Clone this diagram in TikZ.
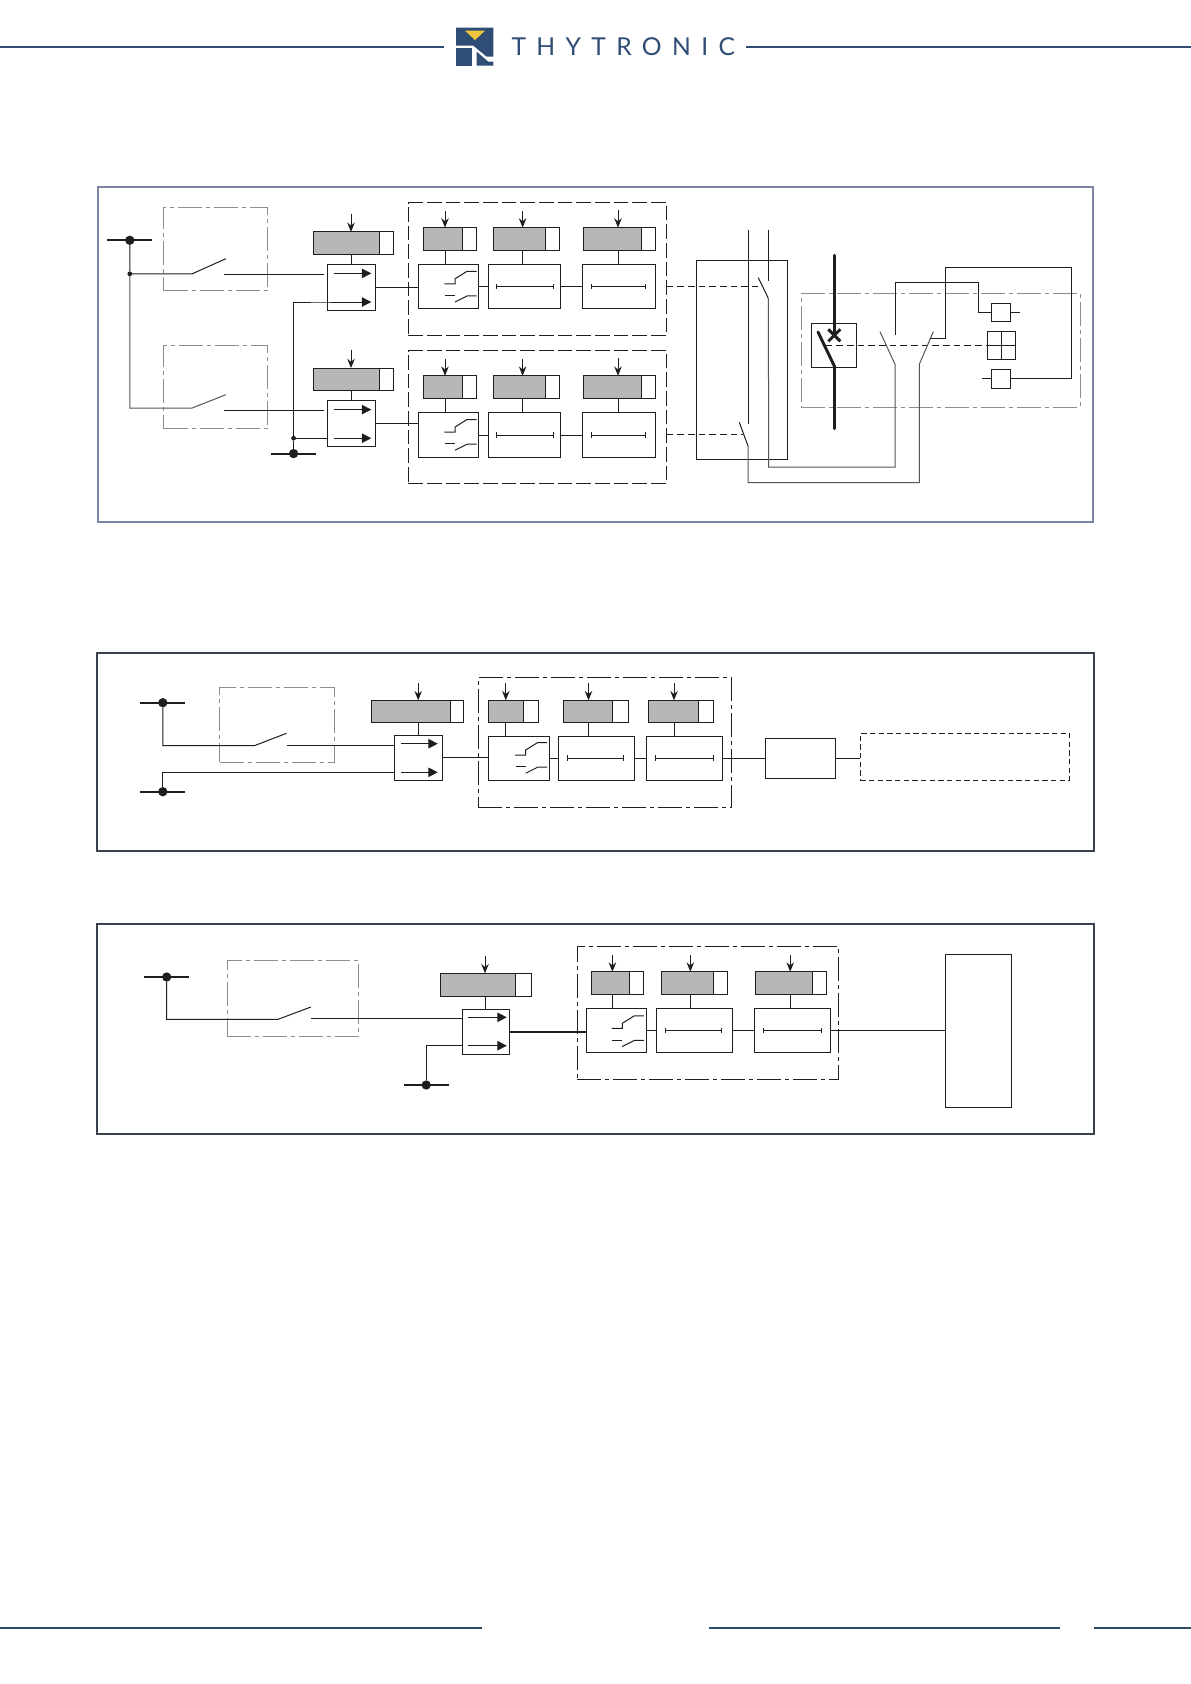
\documentclass[tikz,border=0pt]{standalone}
\usepackage{fontspec}
\usetikzlibrary{arrows.meta}
\newfontfamily\brandfont[LetterSpace=42]{Lato}
\definecolor{navy}{HTML}{2F4D75}
\definecolor{footnavy}{HTML}{2F4A63}
\definecolor{signal}{HTML}{F0C63C}
\definecolor{inkline}{HTML}{1E1E1E}
\definecolor{wiregrey}{HTML}{555555}
\definecolor{blockgrey}{HTML}{B6B8B8}
\definecolor{framea}{HTML}{7B84A3}
\definecolor{frameb}{HTML}{3A4250}
\definecolor{boundary}{HTML}{8A8C98}
\tikzset{
  plainbox/.style={draw=inkline,fill=white,rectangle,inner sep=0pt,outer sep=0pt,anchor=north west},
  greybox/.style={plainbox,fill=blockgrey},
  groupbox/.style={plainbox,fill=none,dash pattern=on 18pt off 3pt on 3pt off 3pt},
  dashgroup/.style={plainbox,fill=none,dash pattern=on 11pt off 3pt},
  areabox/.style={plainbox,fill=none,draw=boundary,dash pattern=on 18pt off 3pt on 3pt off 3pt},
  loadbox/.style={plainbox,fill=none,dash pattern=on 4pt off 2.5pt},
  frameone/.style={plainbox,fill=none,draw=framea,line width=1.5pt},
  frametwo/.style={plainbox,fill=none,draw=frameb,line width=1.4pt},
  busdot/.style={circle,fill=inkline,inner sep=0pt,outer sep=0pt,minimum size=7pt},
  joindot/.style={circle,fill=inkline,inner sep=0pt,outer sep=0pt,minimum size=3.6pt},
  bus/.style={line width=1.4pt,draw=inkline},
  wire/.style={draw=inkline},
  greywire/.style={draw=wiregrey},
  feed/.style={draw=inkline,-{Stealth[length=7pt,width=5.6pt]}},
  route/.style={draw=inkline,-{Triangle[length=7pt,width=7pt]}},
  tickbar/.style={draw=inkline,{Bar[width=4pt]}-{Bar[width=4pt]}},
  trip/.style={draw=inkline,dash pattern=on 5pt off 3pt},
  power/.style={draw=inkline,line width=2.2pt},
  brand/.style={draw=navy,line width=1.5pt},
  footrule/.style={draw=footnavy,line width=1.5pt}
}
\newcommand{\blk}[6][plainbox]{%
  \node[#1,minimum width={(#5-(#3))*0.75pt},minimum height={(#6-(#4))*0.75pt}] (#2) at (#3,#4) {};}
\newcommand{\statblk}[9]{%
  \blk[greybox]{#1}{#2}{#5}{#3}{#6}
  \blk{#1w}{#3}{#5}{#4}{#6}
  \coordinate (#1in) at (#7,#8);
  \draw[feed] (#1in) -- (#1in |- #1.north);
  \draw[wire] (#1.south -| #1in) -- (#9.north -| #1in);}
\newcommand{\busbar}[3]{%
  \node[busdot] (#1) at (#2,#3) {};
  \draw[bus] ([xshift=-17pt]#1.center) -- ([xshift=17pt]#1.center);}
\newcommand{\route}[5]{%
  \coordinate (#1r) at (#2,#4);
  \coordinate (#1s) at (#2,#5);
  \draw[route] (#1r) -- (#3,#4);
  \draw[route] (#1s) -- (#3,#5);}
\newcommand{\chover}[2]{%
  \draw[wire,shift={(#1,#2)}] (0,0) -- (10.6,0) -- (10.6,-5) -- (22.6,-12.5) -- (32.1,-12.5);
  \draw[wire,shift={(#1,#2)}] (0.5,11.7) -- (10.6,11.7);
  \draw[wire,shift={(#1,#2)}] (10.6,18.2) -- (23,12) -- (32.1,12);}
\newcommand{\barin}[3]{\draw[tickbar] (#2,0 |- #1.center) -- (#3,0 |- #1.center);}
\begin{document}
\begin{tikzpicture}[x=0.75pt,y=-0.75pt,line width=0.75pt]
  \useasboundingbox (0,0) rectangle (1191,1684);
  \fill[white] (0,0) rectangle (1191,1684);

  \draw[brand] (0,46.7) -- (444.4,46.7);
  \draw[brand] (746,46.7) -- (1191,46.7);
  \fill[navy] (456,27.7) -- (493.3,27.7) -- (493.3,56.7) -- (486.7,56.7) -- (473.3,45.7) -- (456,45.7) -- cycle;
  \fill[signal] (465,30.7) -- (485,30.7) -- (475,40) -- cycle;
  \fill[navy] (456,48.3) rectangle (471.7,65.7);
  \fill[navy] (476.7,51.7) -- (488.3,61.7) -- (493.3,61.7) -- (493.3,65.7) -- (476.7,65.7) -- cycle;
  \node[text=navy,anchor=west,inner sep=0pt,font=\brandfont\fontsize{18.5}{20}\selectfont] (logoname) at (511,46.9) {THYTRONIC};
  \draw[footrule] (0,1628) -- (482.3,1628);
  \draw[footrule] (708.7,1628) -- (1060.4,1628);
  \draw[footrule] (1093.8,1628) -- (1191,1628);

  \blk[frameone]{framea}{97.6}{186.7}{1093.3}{521.7}
  \blk[areabox]{fieldaa}{163.5}{207.8}{267.6}{290.5}
  \blk[areabox]{fieldab}{163.5}{345.8}{267.6}{428.7}
  \busbar{busap}{129.8}{240.3}
  \busbar{busan}{293.6}{453.6}
  \node[joindot] (joinap) at (129.8,273.8) {};
  \node[joindot] (joinan) at (293.6,438.2) {};
  \coordinate (swaah) at (192.2,273.8);
  \coordinate (swaat) at (225.9,258.7);
  \coordinate (swaao) at (224,274.8);
  \coordinate (swaae) at (324.2,274.8);
  \coordinate (swabh) at (192.2,408);
  \coordinate (swabt) at (225.9,394.7);
  \coordinate (swabo) at (224,410.4);
  \coordinate (swabe) at (324.2,410.4);
  \draw[wire] (busap) -- (joinap) -- (swaah) -- (swaat);
  \draw[greywire] (joinap) |- (swabh) -- (swabt);
  \draw[wire] (swaao) -- (swaae);
  \draw[wire] (swabo) -- (swabe);
  \foreach \ch/\dy/\ds/\dg in {a/0/0/0,b/148.2/136.2/148} {
    \blk{sel\ch}{327.3}{264.7+\ds}{375.5}{310+\ds}
    \route{sel\ch}{334.2}{371.3}{273.4+\ds}{302+\ds}
    \statblk{stat\ch}{313.5}{379.7}{393.5}{231.9+\ds}{254.7+\ds}{351}{213.5+\ds}{sel\ch}
    \blk[dashgroup]{grp\ch}{408.4}{202.8+\dg}{666.7}{335.5+\dg}
    \blk{lg\ch a}{418.4}{264.7+\dy}{478.8}{308.9+\dy}
    \blk{lg\ch b}{488.4}{264.7+\dy}{560.7}{308.9+\dy}
    \blk{lg\ch c}{582.5}{264.7+\dy}{655}{308.9+\dy}
    \statblk{st\ch a}{423.3}{462}{476.2}{227.6+\dy}{250.7+\dy}{445}{211.1+\dy}{lg\ch a}
    \statblk{st\ch b}{493.4}{545.8}{559.6}{227.6+\dy}{250.7+\dy}{522.6}{211.1+\dy}{lg\ch b}
    \statblk{st\ch c}{583.3}{641.5}{655.6}{227.6+\dy}{250.7+\dy}{618}{210+\dy}{lg\ch c}
    \chover{444.4}{283.8+\dy}
    \barin{lg\ch b}{496.4}{553.8}
    \barin{lg\ch c}{591.3}{645.7}
    \draw[wire] (lg\ch a.east) -- (lg\ch b.west);
    \draw[wire] (lg\ch b.east) -- (lg\ch c.west);
  }
  \draw[wire] (sela.east) -- (sela.east -| lgaa.west);
  \draw[wire] (selb.east) -- (selb.east -| lgba.west);
  \draw[wire] (selas) -- (selas -| sela.west) -| (joinan) -- (busan);
  \draw[wire] (joinan) -- (joinan -| selb.west);

  \blk{contact}{696.3}{260.3}{787.3}{459.3}
  \coordinate (railat) at (748.3,230);
  \coordinate (railae) at (748.3,424);
  \coordinate (railbt) at (768.3,230);
  \coordinate (railbe) at (768.3,281);
  \coordinate (bladeat) at (758.3,277.7);
  \coordinate (bladeab) at (768.3,298.3);
  \coordinate (bladebt) at (739.3,422.3);
  \coordinate (bladebb) at (748,446);
  \draw[wire] (railat) -- (railae);
  \draw[wire] (railbt) -- (railbe);
  \draw[wire] (bladeat) -- (bladeab);
  \draw[wire] (bladebt) -- (bladebb);
  \coordinate (tripa) at (758.3,286.3);
  \coordinate (tripb) at (742.5,434.8);
  \draw[trip] (tripa -| grpa.east) -- (tripa);
  \draw[trip] (tripb -| grpb.east) -- (tripb);

  \blk[areabox]{breakarea}{801.3}{293.3}{1080}{407.3}
  \blk{breaker}{811.3}{323.3}{856.7}{367.3}
  \coordinate (powert) at (834.3,255.3);
  \coordinate (powerb) at (834.3,428.7);
  \coordinate (powerh) at (834.3,366);
  \coordinate (powers) at (818,332);
  \coordinate (xpoint) at (834.3,335.3);
  \draw[power,line cap=round] (powert) -- (xpoint);
  \draw[power,line cap=round] (powerh) -- (powerb);
  \draw[power,line cap=round] (powers) -- (powerh);
  \draw[power] ([shift={(-6,-6)}]xpoint) -- ([shift={(6,6)}]xpoint);
  \draw[power] ([shift={(-6,6)}]xpoint) -- ([shift={(6,-6)}]xpoint);
  \coordinate (auxah) at (895,364.3);
  \coordinate (auxat) at (880,331.7);
  \coordinate (auxbh) at (919.3,364.3);
  \coordinate (auxbt) at (933.3,331.7);
  \blk{coilon}{991.3}{303.3}{1010.7}{321.7}
  \blk{coiloff}{991.3}{369.3}{1010.7}{388.3}
  \blk{motor}{987.3}{331.3}{1015.7}{359.3}
  \draw[wire] (motor.north) -- (motor.south);
  \draw[wire] (motor.west) -- (motor.east);
  \coordinate (tripc) at (825.7,345.3);
  \draw[trip] (tripc) -- (motor.west);
  \draw[greywire] (bladeab) -- (768.7,467) -- (895,467) -- (auxah) -- (auxat);
  \draw[greywire] (bladebb) -- (748,482.5) -- (919.3,482.5) -- (auxbh) -- (auxbt);
  \coordinate (auxac) at (895.3,335);
  \coordinate (auxbc) at (930,338.3);
  \draw[wire] (auxac) |- (978.3,282.3) |- (coilon.west);
  \draw[wire] (coilon.east) -- ++(9.6,0);
  \draw[wire] (auxbc) -| (945.3,267.3) -| (1071.3,378.8) -- (coiloff.east);
  \draw[wire] (coiloff.west) -- ++(-9.3,0);

  \blk[frametwo]{frameb}{97.1}{653.3}{1093.8}{851}
  \blk[areabox]{fieldb}{219.5}{687}{334.1}{762.3}
  \busbar{busbp}{162.8}{702.7}
  \busbar{busbn}{162.8}{791.7}
  \blk{selc}{394}{735}{442.3}{780.3}
  \route{selc}{401.1}{437.8}{743.7}{772.3}
  \statblk{statc}{371.5}{450.7}{463.6}{700.3}{722.7}{418.2}{683.3}{selc}
  \coordinate (swch) at (254.3,745.7);
  \coordinate (swct) at (286.5,733.3);
  \coordinate (swco) at (286.5,745);
  \draw[wire] (busbp) |- (swch) -- (swct);
  \draw[wire] (swco) -- (swco -| selc.west);
  \draw[wire] (busbn) |- (selc.west |- selcs);
  \blk[groupbox]{grpc}{478.4}{677.3}{731.6}{807.3}
  \blk{lgca}{488.1}{736}{549.9}{780.3}
  \blk{lgcb}{558.3}{736}{634.3}{780.3}
  \blk{lgcc}{646.5}{736}{722.5}{780.3}
  \statblk{stca}{488.1}{523.5}{538.3}{700.3}{722.7}{505.8}{683.3}{lgca}
  \statblk{stcb}{563.4}{612.4}{628.5}{700.3}{722.7}{588.5}{683.3}{lgcb}
  \statblk{stcc}{648.5}{698}{713.5}{700.3}{722.7}{674}{683.3}{lgcc}
  \chover{515.1}{755}
  \barin{lgcb}{567.3}{624}
  \barin{lgcc}{654.9}{714.2}
  \blk{relayc}{765}{738.3}{835.9}{778.7}
  \blk[loadbox]{loadc}{860.4}{733.3}{1069.7}{780.3}
  \draw[wire] (selc.east) -- (selc.east -| lgca.west);
  \draw[wire] (lgca.east) -- (lgcb.west);
  \draw[wire] (lgcb.east) -- (lgcc.west);
  \draw[wire] (lgcc.east) -- (lgcc.east -| relayc.west);
  \draw[wire] (relayc.east) -- (relayc.east -| loadc.west);

  \blk[frametwo]{framec}{97.1}{924}{1093.8}{1133.6}
  \blk[areabox]{fieldc}{227.2}{960.7}{358.6}{1036.3}
  \busbar{buscp}{166.7}{977}
  \busbar{buscn}{426.2}{1085}
  \blk{seld}{462.3}{1009.3}{509.3}{1054.3}
  \route{seld}{468.1}{506.8}{1017.3}{1045.7}
  \statblk{statd}{440.4}{515.1}{531.2}{973.3}{996.7}{485}{956}{seld}
  \coordinate (swdh) at (278,1019.3);
  \coordinate (swdt) at (310.9,1007);
  \coordinate (swdo) at (310.9,1018.3);
  \draw[wire] (buscp) |- (swdh) -- (swdt);
  \draw[wire] (swdo) -- (swdo -| seld.west);
  \draw[wire] (buscn) |- (seld.west |- selds);
  \blk[groupbox]{grpd}{577}{946.3}{838.5}{1079.3}
  \blk{lgda}{586.6}{1008.3}{646.5}{1052.3}
  \blk{lgdb}{656.8}{1008.3}{732.2}{1052.3}
  \blk{lgdc}{754.7}{1008.3}{830.1}{1052.3}
  \statblk{stda}{591.8}{629.8}{643.9}{971.7}{994.7}{612.4}{955}{lgda}
  \statblk{stdb}{661.3}{713.5}{727}{971.7}{994.7}{690.3}{955}{lgdb}
  \statblk{stdc}{755.4}{812.7}{826.9}{971.7}{994.7}{790.2}{955}{lgdc}
  \chover{611.7}{1028.3}
  \barin{lgdb}{664.6}{721.9}
  \barin{lgdc}{762.5}{821.7}
  \blk{scadad}{945.4}{954.3}{1011.1}{1107.3}
  \draw[wire,line width=1.5pt] (seld.east) -- (seld.east -| lgda.west);
  \draw[wire] (lgda.east) -- (lgdb.west);
  \draw[wire] (lgdb.east) -- (lgdc.west);
  \draw[wire] (lgdc.east) -- (lgdc.east -| scadad.west);
\end{tikzpicture}
\end{document}
